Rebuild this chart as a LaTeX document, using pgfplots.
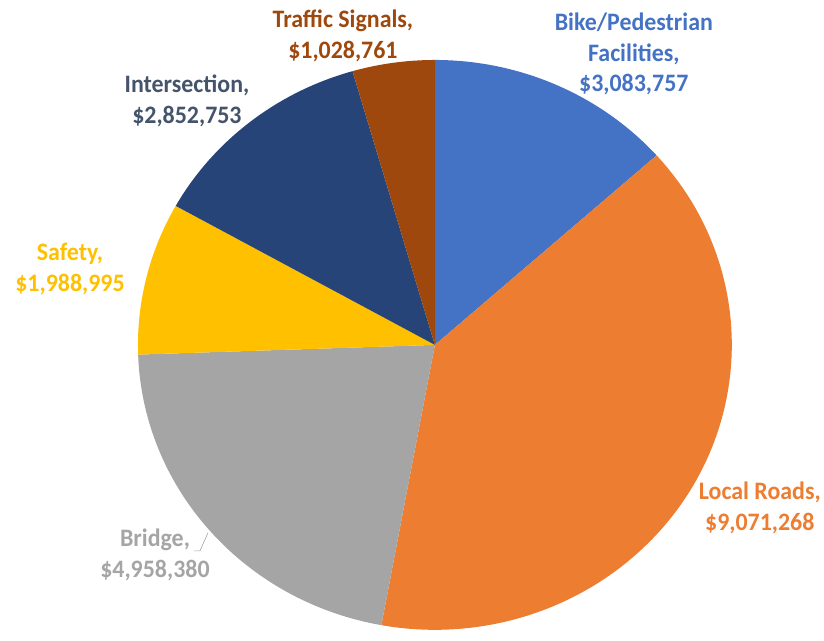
\documentclass[border=0pt]{standalone}
\usepackage{pgfplots}
\usepackage{pgfplotstable}
\usepackage{fontspec}
\setmainfont{Carlito}
\pgfplotsset{compat=1.18}

\definecolor{c0}{HTML}{4472C4}
\definecolor{c1}{HTML}{ED7D31}
\definecolor{c2}{HTML}{A5A5A5}
\definecolor{c3}{HTML}{FFC000}
\definecolor{c4}{HTML}{264478}
\definecolor{c5}{HTML}{9E480E}
\definecolor{tInter}{HTML}{44546A}

\tikzset{lbl/.style={align=center, yscale=1.05, font=\fontsize{24}{29}\selectfont\bfseries}}

% funding by category, clockwise from 12 o'clock
\pgfplotstableread{
value
3083757
9071268
4958380
1988995
2852753
1028761
}\piedata

\begin{document}
\begin{tikzpicture}
% cumulative angles (degrees, clockwise from the top)
\xdef\total{0}
\foreach \i in {0,...,5}{%
  \pgfplotstablegetelem{\i}{value}\of\piedata
  \xdef\total{\fpeval{\total+\pgfplotsretval}}}
\xdef\cum{0}
\foreach \i in {0,...,5}{%
  \pgfplotstablegetelem{\i}{value}\of\piedata
  \expandafter\xdef\csname sa\i\endcsname{\fpeval{90-360*\cum/\total}}%
  \xdef\cum{\fpeval{\cum+\pgfplotsretval}}%
  \expandafter\xdef\csname ea\i\endcsname{\fpeval{90-360*\cum/\total}}}

\begin{axis}[
    width=824bp, height=629bp, scale only axis,
    xmin=0, xmax=824, ymin=0, ymax=629,
    hide axis, clip=false,
  ]
  \path (axis cs:0,0) rectangle (axis cs:824,629);
  \pgfplotsinvokeforeach{0,...,5}{%
    \fill[c#1] (axis cs:435,284) -- ++(\csname sa#1\endcsname:297bp and 285bp)
      arc[start angle=\csname sa#1\endcsname, end angle=\csname ea#1\endcsname,
          x radius=297bp, y radius=285bp] -- cycle;
  }

  \node[lbl, text=c0]     at (axis cs:634,575) {Bike/Pedestrian\\Facilities,\\\$3,083,757};
  \node[lbl, text=c1]     at (axis cs:760,121) {Local Roads,\\\$9,071,268};
  \node[lbl, text=c2]     at (axis cs:155,74)  {Bridge,\\\$4,958,380};
  \node[lbl, text=c3]     at (axis cs:70,360)  {Safety,\\\$1,988,995};
  \node[lbl, text=tInter] at (axis cs:187,528) {Intersection,\\\$2,852,753};
  \node[lbl, text=c5]     at (axis cs:343,593) {Traffic Signals,\\\$1,028,761};
  \draw[c2, line width=0.6bp] (axis cs:194,78) -- (axis cs:200,78) -- (axis cs:208,96);
\end{axis}
\end{tikzpicture}
\end{document}
